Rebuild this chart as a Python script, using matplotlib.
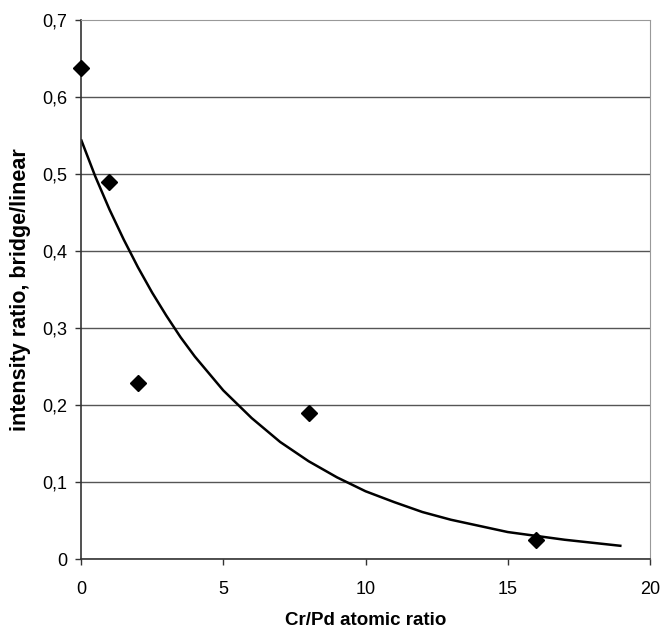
import numpy as np
import matplotlib
matplotlib.use('Agg')
import matplotlib.pyplot as plt
from matplotlib.ticker import FuncFormatter

plt.rcParams['font.family'] = ['Liberation Sans', 'DejaVu Sans']

# measured points
ratio = [0, 1, 2, 8, 16]
intensity = [0.638, 0.49, 0.228, 0.19, 0.025]

# trend line
fit_x = [0, 0.5, 1, 1.5, 2, 2.5, 3, 3.5, 4, 5, 6, 7, 8, 9, 10, 11, 12, 13, 14, 15, 16, 17, 18, 19]
fit_y = [0.545, 0.497, 0.454, 0.415, 0.379, 0.346, 0.316, 0.288, 0.263, 0.219, 0.183, 0.152,
         0.127, 0.106, 0.088, 0.074, 0.061, 0.051, 0.043, 0.035, 0.030, 0.025, 0.021, 0.017]

fig = plt.figure(figsize=(6.63, 6.30), dpi=100)
ax = fig.add_axes([81/663, 1-559/630, 569/663, 539/630])

ax.plot(fit_x, fit_y, color='black', lw=1.8, solid_capstyle='butt', solid_joinstyle='round')
ax.plot(ratio, intensity, 'D', color='black', ms=8.5, clip_on=False, zorder=5)

ax.set_xlim(0, 20)
ax.set_ylim(0, 0.7)
ax.set_xticks([0, 5, 10, 15, 20])
ax.set_yticks(np.arange(0, 0.71, 0.1))
ax.yaxis.set_major_formatter(FuncFormatter(lambda v, p: '0' if abs(v) < 1e-9 else f'{v:.1f}'.replace('.', ',')))
ax.grid(axis='y', color='#555555', lw=1)
ax.yaxis.get_gridlines()[-1].set_visible(False)
ax.set_axisbelow(True)

for s in ['top', 'right']:
    ax.spines[s].set_color('#999999')
    ax.spines[s].set_linestyle((0, (1, 1)))
for s in ['left', 'bottom']:
    ax.spines[s].set_color('#333333')
    ax.spines[s].set_linewidth(1.2)

ax.tick_params(axis='both', direction='out', length=4, width=1, labelsize=13, color='#333333')
ax.tick_params(axis='x', pad=12)
ax.tick_params(axis='y', pad=6)

ax.set_xlabel('Cr/Pd atomic ratio', fontsize=13.5, fontweight='bold', labelpad=10)
ax.set_ylabel('intensity ratio, bridge/linear', fontsize=15.5, fontweight='bold', labelpad=8)

fig.savefig('out.png', dpi=100)
